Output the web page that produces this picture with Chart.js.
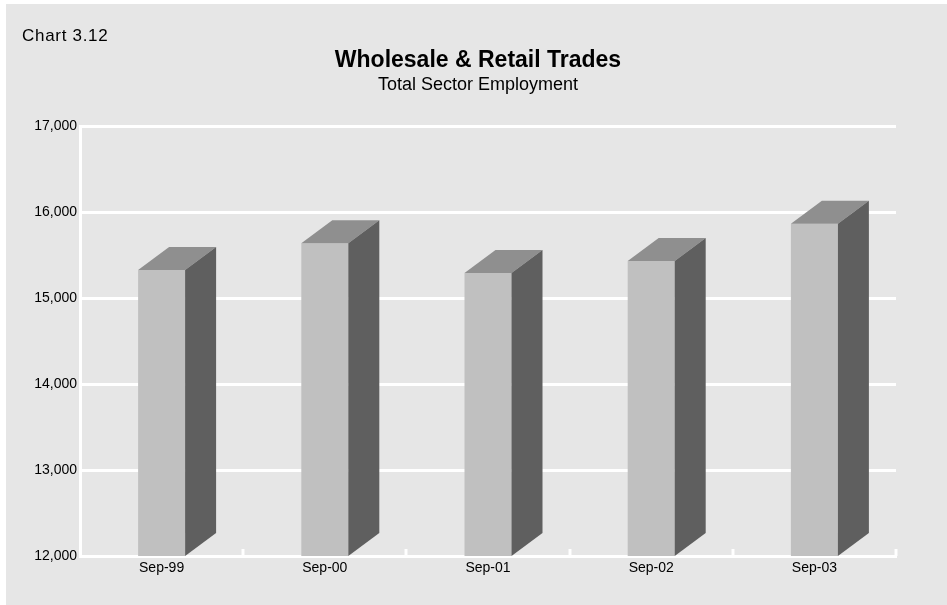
<!DOCTYPE html>
<html>
<head>
<meta charset="utf-8">
<title>Wholesale &amp; Retail Trades</title>
<script src="https://cdn.jsdelivr.net/npm/chart.js@4/dist/chart.umd.min.js"></script>
<style>
  html, body { margin: 0; padding: 0; background: #ffffff; }
  #wrap { width: 947px; height: 605px; position: relative; }
</style>
</head>
<body>
<div id="wrap"><canvas id="c" width="947" height="605"></canvas></div>
<script>
// Data
const categories = ['Sep-99', 'Sep-00', 'Sep-01', 'Sep-02', 'Sep-03'];
const employment = [15326, 15636, 15291, 15430, 15864];
const yTicks = [12000, 13000, 14000, 15000, 16000, 17000];

const FONT = '"Liberation Sans", Arial, Helvetica, sans-serif';

// Panel background with a thin white margin on top and left
const panelBg = {
  id: 'panelBg',
  beforeDraw(chart) {
    const ctx = chart.ctx;
    ctx.save();
    ctx.fillStyle = '#ffffff';
    ctx.fillRect(0, 0, chart.width, chart.height);
    ctx.fillStyle = '#e6e6e6';
    ctx.fillRect(6, 4, chart.width - 6, chart.height - 4);
    ctx.restore();
  },
  afterDraw(chart) {
    const ctx = chart.ctx;
    ctx.save();
    ctx.fillStyle = '#000000';
    ctx.font = '17px ' + FONT;
    if ('letterSpacing' in ctx) ctx.letterSpacing = '0.7px';
    ctx.textAlign = 'left';
    ctx.textBaseline = 'alphabetic';
    ctx.fillText('Chart 3.12', 22, 41);
    ctx.restore();
  }
};

// Extruded top and side faces for each column, plus small category tick marks
const columns3d = {
  id: 'columns3d',
  afterDatasetsDraw(chart, args, opts) {
    const ctx = chart.ctx;
    const dx = opts.depthX, dy = opts.depthY;
    const area = chart.chartArea;
    const meta = chart.getDatasetMeta(0);
    ctx.save();
    meta.data.forEach(bar => {
      const p = bar.getProps(['x', 'y', 'base', 'width'], true);
      const l = p.x - p.width / 2, r = p.x + p.width / 2;
      const base = Math.min(p.base, area.bottom);
      // top face
      ctx.fillStyle = opts.topColor;
      ctx.beginPath();
      ctx.moveTo(l, p.y);
      ctx.lineTo(r, p.y);
      ctx.lineTo(r + dx, p.y - dy);
      ctx.lineTo(l + dx, p.y - dy);
      ctx.closePath();
      ctx.fill();
      // side face
      ctx.fillStyle = opts.sideColor;
      ctx.beginPath();
      ctx.moveTo(r, p.y);
      ctx.lineTo(r + dx, p.y - dy);
      ctx.lineTo(r + dx, base - dy);
      ctx.lineTo(r, base);
      ctx.closePath();
      ctx.fill();
    });
    // tick marks between categories, pointing up into the plot
    const xs = chart.scales.x;
    const n = categories.length;
    const half = (xs.right - xs.left) / n / 2;
    ctx.strokeStyle = '#ffffff';
    ctx.lineWidth = 3;
    for (let i = 0; i < n; i++) {
      const xb = Math.round(xs.getPixelForValue(i) + half);
      ctx.beginPath();
      ctx.moveTo(xb, area.bottom);
      ctx.lineTo(xb, area.bottom - 7);
      ctx.stroke();
    }
    ctx.restore();
  }
};

new Chart(document.getElementById('c'), {
  type: 'bar',
  data: {
    labels: categories,
    datasets: [{
      data: employment,
      backgroundColor: '#c0c0c0',
      borderWidth: 0,
      barPercentage: 0.288,
      categoryPercentage: 1.0
    }]
  },
  options: {
    responsive: false,
    animation: false,
    events: [],
    layout: { padding: { left: 15, right: 6, top: 0, bottom: 0 } },
    plugins: {
      legend: { display: false },
      tooltip: { enabled: false },
      title: {
        display: true,
        text: 'Wholesale & Retail Trades',
        color: '#000000',
        font: { family: FONT, size: 23, weight: 'bold', lineHeight: 1.2 },
        padding: { top: 47, bottom: 0 }
      },
      subtitle: {
        display: true,
        text: 'Total Sector Employment',
        color: '#000000',
        font: { family: FONT, size: 18, weight: 'normal', lineHeight: 1.12 },
        padding: { top: 0, bottom: 31.24 }
      },
      columns3d: {
        depthX: 31,
        depthY: 23,
        topColor: '#8f8f8f',
        sideColor: '#5f5f5f'
      }
    },
    scales: {
      x: {
        grid: { display: false, drawTicks: false },
        border: { display: true, color: '#ffffff', width: 3 },
        ticks: {
          color: '#000000',
          font: { family: FONT, size: 14 },
          padding: 4,
          maxRotation: 0
        },
        afterFit(scale) { scale.height = 49; }
      },
      y: {
        min: yTicks[0],
        max: yTicks[yTicks.length - 1],
        afterBuildTicks(scale) { scale.ticks = yTicks.map(v => ({ value: v })); },
        grid: { color: '#ffffff', lineWidth: 3, drawTicks: false },
        border: { display: true, color: '#ffffff', width: 3 },
        ticks: {
          color: '#000000',
          font: { family: FONT, size: 14 },
          padding: 3,
          callback: v => Number(v).toLocaleString('en-US')
        },
        afterFit(scale) { scale.width = 65; }
      },
      pad: {
        type: 'linear',
        position: 'right',
        display: true,
        grid: { display: false, drawTicks: false },
        border: { display: false },
        ticks: { display: false },
        afterFit(scale) { scale.width = 45; }
      }
    }
  },
  plugins: [panelBg, columns3d]
});
</script>
</body>
</html>
